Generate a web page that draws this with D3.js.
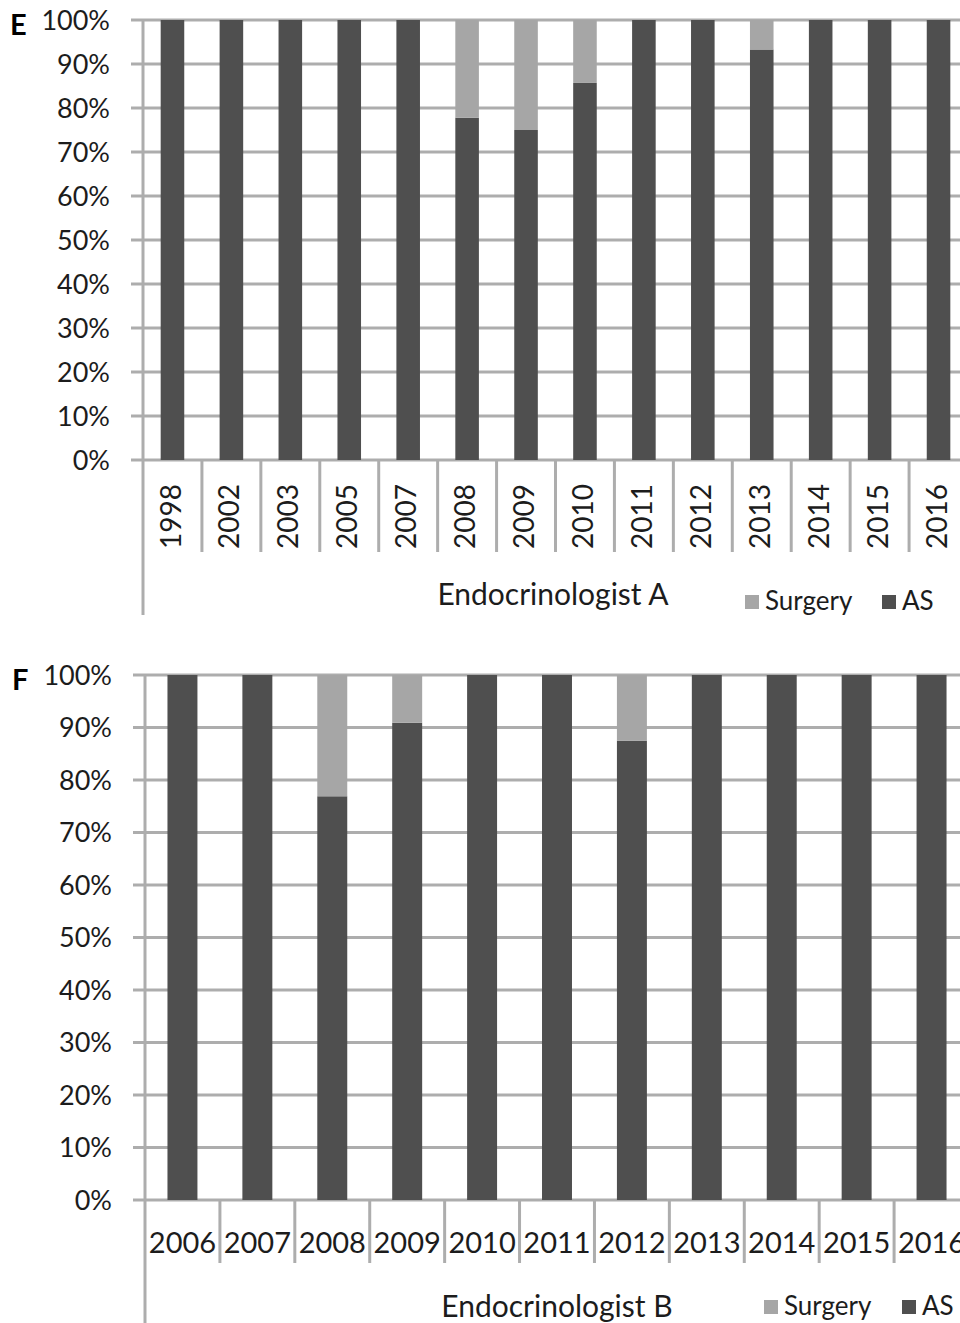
<!DOCTYPE html>
<html>
<head>
<meta charset="utf-8">
<script src="https://cdn.jsdelivr.net/npm/d3@7/dist/d3.min.js"></script>
<style>
  html, body { margin: 0; padding: 0; background: #fff; }
  svg { display: block; }
  text { font-family: Lato, "Open Sans", sans-serif; fill: #1c1c1c; }
</style>
</head>
<body>
<svg id="chart" width="960" height="1323"></svg>
<script>
// Treatment share per year (percent of patients), two endocrinologists
const yearsA = ["1998","2002","2003","2005","2007","2008","2009","2010","2011","2012","2013","2014","2015","2016"];
const asA      = [100, 100, 100, 100, 100, 77.8, 75.0, 85.7, 100, 100, 93.3, 100, 100, 100];
const surgeryA = [0, 0, 0, 0, 0, 22.2, 25.0, 14.3, 0, 0, 6.7, 0, 0, 0];

const yearsB = ["2006","2007","2008","2009","2010","2011","2012","2013","2014","2015","2016"];
const asB      = [100, 100, 76.9, 90.9, 100, 100, 87.5, 100, 100, 100, 100];
const surgeryB = [0, 0, 23.1, 9.1, 0, 0, 12.5, 0, 0, 0, 0];

const yTicks = [0, 10, 20, 30, 40, 50, 60, 70, 80, 90, 100];
const seriesKeys = ["AS", "Surgery"];
const legendKeys = ["Surgery", "AS"];

const colors = { AS: "#4f4f4f", Surgery: "#a6a6a6" };
const gridColor = "#adadad";

const svg = d3.select("#chart");

function drawPanel(cfg) {
  const rows = cfg.years.map((y, i) => ({ year: y, AS: cfg.as[i], Surgery: cfg.surgery[i] }));
  const stacked = d3.stack().keys(seriesKeys)(rows);

  const x = d3.scaleBand().domain(cfg.years).range([cfg.left, cfg.right]).paddingInner(0.6).paddingOuter(0.3);
  const xCat = d3.scaleBand().domain(cfg.years).range([cfg.left, cfg.right]);
  const y = d3.scaleLinear().domain([0, 100]).range([cfg.bottom, cfg.top]);

  const g = svg.append("g");

  // horizontal gridlines with short outer ticks
  g.append("g").selectAll("line").data(yTicks).join("line")
    .attr("x1", cfg.left - 12).attr("x2", 960)
    .attr("y1", d => y(d)).attr("y2", d => y(d))
    .attr("stroke", gridColor).attr("stroke-width", 3);

  // y tick labels
  g.append("g").selectAll("text").data(yTicks).join("text")
    .attr("x", cfg.labelRight).attr("y", d => y(d) + 3)
    .attr("text-anchor", "end").attr("dominant-baseline", "middle")
    .attr("font-size", 27)
    .text(d => d + "%");

  // stacked bars
  g.append("g").selectAll("g").data(stacked).join("g")
    .attr("fill", d => colors[d.key])
    .selectAll("rect").data(d => d).join("rect")
    .attr("x", d => x(d.data.year))
    .attr("width", x.bandwidth())
    .attr("y", d => y(d[1]))
    .attr("height", d => y(d[0]) - y(d[1]));

  // vertical axis line
  g.append("line")
    .attr("x1", cfg.left).attr("x2", cfg.left)
    .attr("y1", cfg.top - 1).attr("y2", cfg.groupBottom)
    .attr("stroke", gridColor).attr("stroke-width", 3);

  // category dividers below the baseline
  const bounds = cfg.years.map(d => xCat(d)).concat([cfg.right]);
  g.append("g").selectAll("line").data(bounds.slice(1)).join("line")
    .attr("x1", d => d).attr("x2", d => d)
    .attr("y1", cfg.bottom).attr("y2", cfg.divBottom)
    .attr("stroke", gridColor).attr("stroke-width", 3);

  // category labels
  const lab = g.append("g").selectAll("text").data(cfg.years).join("text")
    .attr("font-size", cfg.rotate ? 28 : 29)
    .text(d => d);
  if (cfg.rotate) {
    lab.attr("text-anchor", "end").attr("dominant-baseline", "middle")
      .attr("transform", d => `translate(${xCat(d) + xCat.bandwidth() / 2 + 1},${cfg.bottom + 24}) rotate(-90)`);
  } else {
    lab.attr("text-anchor", "middle").attr("dominant-baseline", "middle")
      .attr("x", d => xCat(d) + xCat.bandwidth() / 2)
      .attr("y", cfg.bottom + 46);
  }

  // group label
  g.append("text")
    .attr("x", cfg.groupX).attr("y", cfg.groupY)
    .attr("text-anchor", "middle").attr("font-size", 30)
    .text(cfg.group);

  // legend
  const leg = g.append("g").selectAll("g").data(legendKeys).join("g")
    .attr("transform", (d, i) => `translate(${cfg.legendX[i]},${cfg.legendY})`);
  leg.append("rect").attr("x", 0).attr("y", -15).attr("width", 14).attr("height", 14)
    .attr("fill", d => colors[d]);
  leg.append("text").attr("x", 20).attr("y", 0).attr("font-size", 26).text(d => d);

  // panel letter
  svg.append("text")
    .attr("x", cfg.letterX).attr("y", cfg.letterY)
    .attr("font-family", "Liberation Sans, Arial, sans-serif")
    .attr("font-weight", "bold").attr("font-size", 29)
    .style("fill", "#000")
    .text(cfg.letter);
}

drawPanel({
  letter: "E", letterX: 10, letterY: 35,
  years: yearsA, as: asA, surgery: surgeryA,
  left: 143, right: 968, top: 20, bottom: 460,
  labelRight: 110, rotate: true,
  divBottom: 552, groupBottom: 615,
  group: "Endocrinologist A", groupX: 553, groupY: 605,
  legendX: [745, 882], legendY: 610
});

drawPanel({
  letter: "F", letterX: 12, letterY: 690,
  years: yearsB, as: asB, surgery: surgeryB,
  left: 145, right: 969, top: 675, bottom: 1200,
  labelRight: 112, rotate: false,
  divBottom: 1263, groupBottom: 1323,
  group: "Endocrinologist B", groupX: 557, groupY: 1317,
  legendX: [764, 902], legendY: 1315
});
</script>
</body>
</html>
